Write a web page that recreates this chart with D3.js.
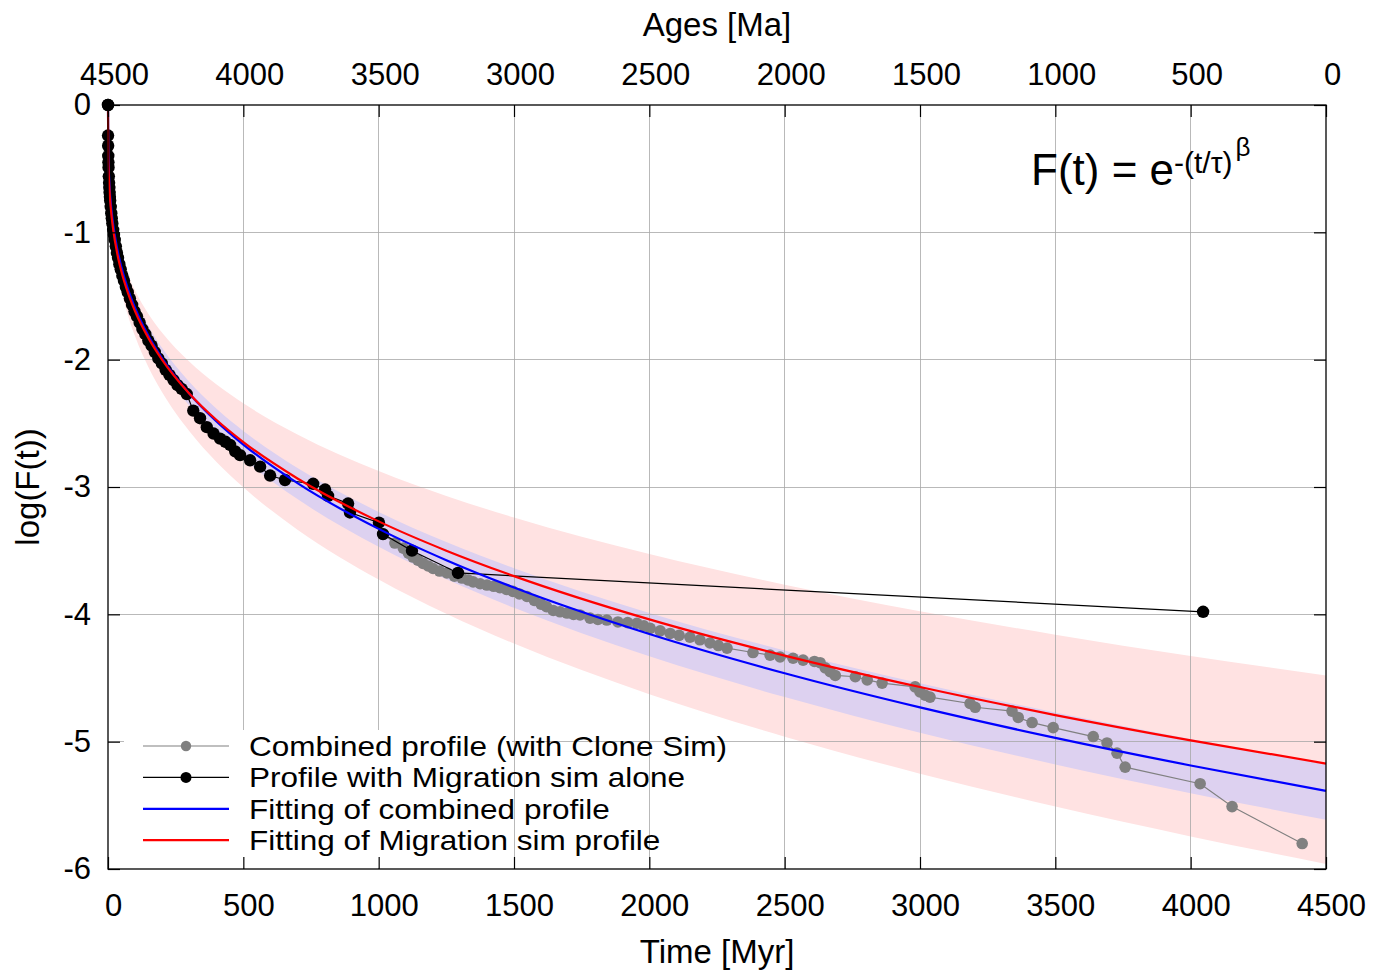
<!DOCTYPE html>
<html>
<head>
<meta charset="utf-8">
<script src="https://cdn.jsdelivr.net/npm/d3@7"></script>
<style>
  html, body { margin: 0; padding: 0; background: #fff; }
  svg text { font-family: "Liberation Sans", Arial, Helvetica, sans-serif; fill: #000; }
</style>
</head>
<body>
<svg id="chart" width="1387" height="978"></svg>
<script>
// ---- Data -------------------------------------------------------------
const timeTicks = [0, 500, 1000, 1500, 2000, 2500, 3000, 3500, 4000, 4500];
const ageTicks = [4500, 4000, 3500, 3000, 2500, 2000, 1500, 1000, 500, 0];
const logTicks = [0, -1, -2, -3, -4, -5, -6];

// Fitted curves and their uncertainty envelopes, log(F) sampled at fitT (Myr)
const fitT = [0, 1, 2, 5, 10, 20, 35, 50, 75, 100, 150, 200, 300, 400, 500, 700, 1000, 1250, 1500, 2000, 2500, 3000, 3500, 4000, 4500];
const fitMigration = [0, -0.398, -0.491, -0.649, -0.803, -0.991, -1.176, -1.312, -1.484, -1.620, -1.833, -2.001, -2.265, -2.472, -2.647, -2.933, -3.270, -3.500, -3.700, -4.040, -4.324, -4.571, -4.791, -4.990, -5.172];
const fitCombined = [0, -0.365, -0.456, -0.611, -0.763, -0.952, -1.139, -1.277, -1.453, -1.593, -1.814, -1.989, -2.265, -2.483, -2.667, -2.970, -3.329, -3.575, -3.790, -4.155, -4.463, -4.731, -4.970, -5.187, -5.387];
const migUpper = [0, -0.375, -0.460, -0.602, -0.739, -0.907, -1.069, -1.188, -1.339, -1.457, -1.643, -1.788, -2.015, -2.194, -2.343, -2.588, -2.875, -3.070, -3.240, -3.527, -3.767, -3.975, -4.160, -4.327, -4.480];
const migLower = [0, -0.432, -0.536, -0.714, -0.886, -1.100, -1.310, -1.464, -1.661, -1.817, -2.062, -2.256, -2.560, -2.801, -3.002, -3.335, -3.727, -3.996, -4.230, -4.628, -4.961, -5.251, -5.510, -5.744, -5.960];
const combUpper = [0, -0.350, -0.438, -0.587, -0.732, -0.914, -1.093, -1.226, -1.395, -1.529, -1.741, -1.909, -2.174, -2.384, -2.560, -2.851, -3.196, -3.432, -3.638, -3.989, -4.284, -4.542, -4.771, -4.980, -5.172];
const combLower = [0, -0.380, -0.475, -0.637, -0.795, -0.992, -1.187, -1.331, -1.514, -1.660, -1.890, -2.073, -2.360, -2.587, -2.779, -3.095, -3.469, -3.725, -3.949, -4.330, -4.650, -4.930, -5.179, -5.405, -5.613];

// Profile with Migration sim alone
const migT = [0, 0.2, 0.5, 1, 1.5, 2, 3, 4, 5, 6, 7, 8, 10, 12, 14, 16, 19, 22, 25, 29, 33, 37, 42, 47, 53, 59, 66, 73, 81, 89, 98, 107, 117, 127, 138, 149, 161, 173, 186, 199, 213, 227, 242, 257, 272, 291, 315, 340, 365, 390, 414, 434, 451, 470, 488, 525, 562, 599, 654, 758, 802, 813, 887, 894, 1001, 1016, 1123, 1293, 4046];
const migLogF = [0, -0.24, -0.32, -0.40, -0.45, -0.49, -0.56, -0.61, -0.65, -0.69, -0.72, -0.75, -0.80, -0.85, -0.89, -0.93, -0.98, -1.02, -1.06, -1.11, -1.16, -1.20, -1.25, -1.29, -1.34, -1.38, -1.43, -1.47, -1.52, -1.57, -1.62, -1.66, -1.71, -1.76, -1.80, -1.85, -1.89, -1.94, -1.99, -2.03, -2.08, -2.12, -2.16, -2.20, -2.23, -2.27, -2.40, -2.46, -2.53, -2.58, -2.62, -2.645, -2.67, -2.72, -2.75, -2.79, -2.84, -2.91, -2.945, -2.975, -3.02, -3.07, -3.13, -3.20, -3.28, -3.37, -3.50, -3.675, -3.98];

// Combined profile (with Clone Sim)
const combT = [1016, 1060, 1091, 1110, 1127, 1145, 1164, 1183, 1201, 1225, 1252, 1280, 1308, 1330, 1349, 1375, 1400, 1425, 1448, 1472, 1496, 1520, 1548, 1575, 1600, 1620, 1645, 1670, 1696, 1720, 1744, 1781, 1810, 1843, 1884, 1920, 1954, 1980, 2003, 2040, 2077, 2110, 2150, 2187, 2224, 2255, 2287, 2383, 2446, 2483, 2531, 2568, 2610, 2631, 2650, 2668, 2687, 2761, 2805, 2860, 2982, 3000, 3019, 3037, 3185, 3204, 3340, 3363, 3414, 3492, 3640, 3691, 3728, 3758, 4035, 4153, 4412];
const combLogF = [-3.37, -3.44, -3.48, -3.52, -3.55, -3.575, -3.60, -3.62, -3.64, -3.66, -3.675, -3.70, -3.715, -3.73, -3.745, -3.76, -3.77, -3.78, -3.79, -3.805, -3.82, -3.84, -3.86, -3.89, -3.92, -3.94, -3.97, -3.98, -3.99, -4.00, -4.005, -4.03, -4.04, -4.045, -4.06, -4.065, -4.07, -4.09, -4.11, -4.13, -4.15, -4.165, -4.18, -4.20, -4.225, -4.245, -4.265, -4.30, -4.32, -4.335, -4.345, -4.36, -4.37, -4.38, -4.42, -4.45, -4.48, -4.49, -4.515, -4.54, -4.57, -4.61, -4.635, -4.65, -4.70, -4.73, -4.76, -4.81, -4.85, -4.89, -4.96, -5.01, -5.09, -5.20, -5.33, -5.51, -5.80];

const legendLabels = [
  "Combined profile (with Clone Sim)",
  "Profile with Migration sim alone",
  "Fitting of combined profile",
  "Fitting of Migration sim profile"
];

// ---- Layout -----------------------------------------------------------
const plot = { left: 108, right: 1326, top: 105, bottom: 869 };
const svg = d3.select("#chart");

const x = d3.scaleLinear().domain([0, 4500]).range([plot.left, plot.right]);
const xAge = d3.scaleLinear().domain([4500, 0]).range([plot.left, plot.right]);
const y = d3.scaleLinear().domain([-6, 0]).range([plot.bottom, plot.top]);

const W = plot.right - plot.left, H = plot.bottom - plot.top;
const FONT = "'Liberation Sans', Arial, sans-serif";

// ---- Uncertainty bands -------------------------------------------------
const band = (lo, hi) => fitT.map((t, i) => ({ t, lo: lo[i], hi: hi[i] }));
const area = d3.area().x(d => x(d.t)).y0(d => y(d.lo)).y1(d => y(d.hi)).curve(d3.curveMonotoneX);

svg.append("path").datum(band(migLower, migUpper))
  .attr("d", area).attr("fill", "#ffe2e2");
svg.append("path").datum(band(combLower, combUpper))
  .attr("d", area).attr("fill", "#ddd1f0");

// ---- Grid ---------------------------------------------------------------
const grid = svg.append("g").attr("class", "grid");
grid.selectAll("line.v").data(timeTicks.slice(1, -1)).join("line")
  .attr("x1", d => x(d)).attr("x2", d => x(d))
  .attr("y1", plot.top).attr("y2", plot.bottom)
  .attr("stroke", "#a8a8a8").attr("stroke-opacity", 0.8).attr("stroke-width", 1)
  .attr("shape-rendering", "crispEdges");
grid.selectAll("line.h").data(logTicks.slice(1, -1)).join("line")
  .attr("x1", plot.left).attr("x2", plot.right)
  .attr("y1", d => y(d)).attr("y2", d => y(d))
  .attr("stroke", "#a8a8a8").attr("stroke-opacity", 0.8).attr("stroke-width", 1)
  .attr("shape-rendering", "crispEdges");

// ---- Profiles -----------------------------------------------------------
const GRAY_R = 5.8, BLACK_R = 6.2;
const combPts = combT.map((t, i) => ({ t, v: combLogF[i] }));
const migPts = migT.map((t, i) => ({ t, v: migLogF[i] }));
const ptLine = d3.line().x(d => x(d.t)).y(d => y(d.v));

svg.append("path").datum(combPts).attr("d", ptLine)
  .attr("fill", "none").attr("stroke", "#808080").attr("stroke-width", 1.2);
svg.append("g").selectAll("circle").data(combPts).join("circle")
  .attr("cx", d => x(d.t)).attr("cy", d => y(d.v)).attr("r", GRAY_R)
  .attr("fill", "#808080");

svg.append("path").datum(migPts).attr("d", ptLine)
  .attr("fill", "none").attr("stroke", "#000").attr("stroke-width", 1.2);
svg.append("g").selectAll("circle").data(migPts).join("circle")
  .attr("cx", d => x(d.t)).attr("cy", d => y(d.v)).attr("r", BLACK_R)
  .attr("fill", "#000");

// ---- Fitted curves ------------------------------------------------------
const fitLine = d3.line().x(d => x(d.t)).y(d => y(d.v)).curve(d3.curveMonotoneX);
svg.append("path").datum(fitT.map((t, i) => ({ t, v: fitCombined[i] })))
  .attr("d", fitLine).attr("fill", "none").attr("stroke", "#0000ff").attr("stroke-width", 2.2);
svg.append("path").datum(fitT.map((t, i) => ({ t, v: fitMigration[i] })))
  .attr("d", fitLine).attr("fill", "none").attr("stroke", "#ff0000").attr("stroke-width", 2.2);

// ---- Legend -------------------------------------------------------------
const legend = svg.append("g").attr("class", "legend");
legend.append("rect")
  .attr("x", 124).attr("y", 730).attr("width", 388).attr("height", 138)
  .attr("fill", "#fff");
const legendStyles = [
  { color: "#808080", dot: 5.2, width: 1.2 },
  { color: "#000000", dot: 5.5, width: 1.2 },
  { color: "#0000ff", dot: 0, width: 2.2 },
  { color: "#ff0000", dot: 0, width: 2.2 }
];
const rowY = i => 746 + i * 31.4;
const LEGEND_FS = 28, LEGEND_STRETCH = 1.125;   // tight rows: slightly widened glyphs
legendLabels.forEach((label, i) => {
  const s = legendStyles[i];
  legend.append("line")
    .attr("x1", 143).attr("x2", 229).attr("y1", rowY(i)).attr("y2", rowY(i))
    .attr("stroke", s.color).attr("stroke-width", s.width);
  if (s.dot) {
    legend.append("circle").attr("cx", 186).attr("cy", rowY(i)).attr("r", s.dot).attr("fill", s.color);
  }
  const t = legend.append("text")
    .attr("x", 249).attr("y", rowY(i) + 10)
    .attr("font-size", LEGEND_FS).text(label);
  const len = t.node().getComputedTextLength();
  t.attr("textLength", len * LEGEND_STRETCH).attr("lengthAdjust", "spacingAndGlyphs");
});

// ---- Axes ---------------------------------------------------------------
const fmt = d => String(d);
const styleAxis = g => {
  g.select(".domain").remove();
  g.selectAll(".tick line").attr("stroke", "#000").attr("stroke-width", 1.2);
  g.selectAll(".tick text").attr("font-size", 31)
    .attr("font-family", FONT).attr("fill", "#000");
};

svg.append("g").attr("transform", `translate(0,${plot.bottom})`)
  .call(d3.axisBottom(x).tickValues(timeTicks).tickFormat(fmt).tickSize(-12).tickPadding(25))
  .call(styleAxis)
  .call(g => g.selectAll(".tick text").attr("dx", 5));

svg.append("g").attr("transform", `translate(0,${plot.top})`)
  .call(d3.axisTop(xAge).tickValues(ageTicks).tickFormat(fmt).tickSize(-12).tickPadding(20))
  .call(styleAxis)
  .call(g => g.selectAll(".tick text").attr("dx", 6));

svg.append("g").attr("transform", `translate(${plot.left},0)`)
  .call(d3.axisLeft(y).tickValues(logTicks).tickFormat(fmt).tickSize(-12).tickPadding(17))
  .call(styleAxis);

svg.append("g").attr("transform", `translate(${plot.right},0)`)
  .call(d3.axisRight(y).tickValues(logTicks).tickFormat("").tickSize(-12))
  .call(styleAxis);

// Frame
svg.append("rect")
  .attr("x", plot.left).attr("y", plot.top).attr("width", W).attr("height", H)
  .attr("fill", "none").attr("stroke", "#000").attr("stroke-width", 1.3);

// Re-draw the first profile point so it sits above the frame
svg.append("circle").attr("cx", x(migT[0])).attr("cy", y(migLogF[0])).attr("r", BLACK_R).attr("fill", "#000");

// ---- Titles -------------------------------------------------------------
svg.append("text").attr("x", 717).attr("y", 963).attr("text-anchor", "middle")
  .attr("font-size", 33).text("Time [Myr]");
svg.append("text").attr("x", 717).attr("y", 36).attr("text-anchor", "middle")
  .attr("font-size", 33).text("Ages [Ma]");
svg.append("text").attr("transform", "translate(39,487) rotate(-90)")
  .attr("text-anchor", "middle").attr("font-size", 33).text("log(F(t))");

// Model formula
const formula = svg.append("text").attr("x", 1031).attr("y", 185).attr("font-size", 44);
formula.append("tspan").text("F(t) = e");
formula.append("tspan").attr("font-size", 30).attr("dy", -12).text("-(t/τ)");
formula.append("tspan").attr("font-size", 26).attr("dy", -17).attr("dx", 3).text("β");
</script>
</body>
</html>
